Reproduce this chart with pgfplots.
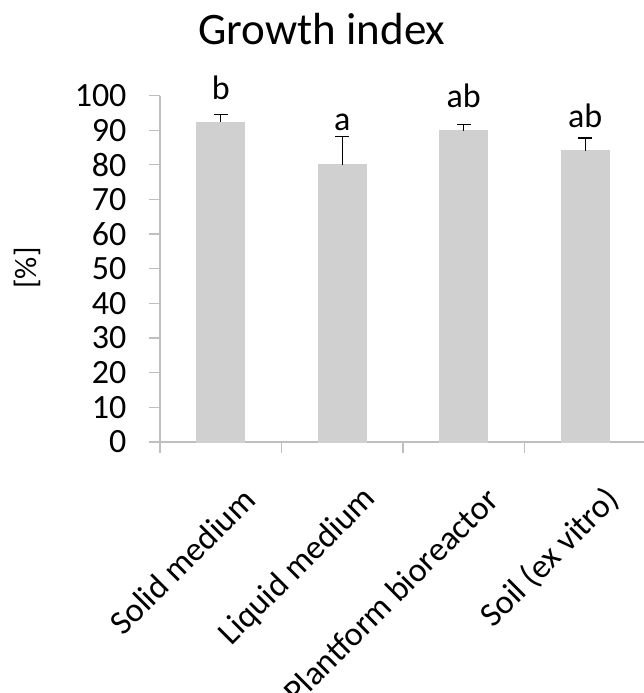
\documentclass[border=0pt]{standalone}
\usepackage{fontspec}
\setmainfont{Carlito}
\usepackage{pgfplots}
\pgfplotsset{compat=1.18}
\definecolor{barc}{RGB}{208,208,208}
\definecolor{axc}{RGB}{191,191,191}
\begin{document}
\begin{tikzpicture}[x=1pt,y=1pt]
\useasboundingbox (0,0) rectangle (644,-693);
\node[font=\fontsize{45}{54}\selectfont, anchor=base] at (322,-45) {Growth index};
\node[font=\fontsize{31}{37}\selectfont, rotate=90] at (27,-268) {[\%]};
\begin{axis}[
  at={(160pt,-442pt)}, anchor=south west,
  scale only axis, width=486pt, height=346.5pt,
  clip=false,
  xmin=-0.5, xmax=3.5, ymin=0, ymax=100,
  axis x line=bottom, axis y line=left,
  axis line style={-, draw=axc, line width=1.3pt},
  tick style={draw=axc, line width=1.3pt},
  tick align=outside, major tick length=11pt,
  ytick={0,10,...,100},
  /pgf/number format/assume math mode=true,
  yticklabel style={font=\fontsize{34}{40}\selectfont, xshift=-19pt},
  xtick={-0.5,0.5,1.5,2.5,3.5}, xticklabels={},
  extra x ticks={0,1,2,3},
  extra x tick labels={Solid medium, Liquid medium, Plantform bioreactor, Soil (ex vitro)},
  extra x tick style={major tick length=0pt, xticklabel style={rotate=45, anchor=east, xshift=-13pt, yshift=-57pt, font=\fontsize{34}{40}\selectfont}},
]
\addplot[ybar, bar width=48pt, fill=barc, draw=barc, line width=0pt,
  error bars/.cd, y dir=plus, y explicit,
  error bar style={draw=black, line width=1.3pt, solid},
  error mark options={rotate=90, draw=black, line width=1.3pt, mark size=7pt, solid}]
  table[x=x, y=y, y error=e] {
x y e
0 92.3 2.3
1 80.0 8.1
2 89.8 1.9
3 84.1 3.6
};
\node[anchor=base, font=\fontsize{34}{40}\selectfont] at (axis cs:0,98.9) {b};
\node[anchor=base, font=\fontsize{34}{40}\selectfont] at (axis cs:1,89.8) {a};
\node[anchor=base, font=\fontsize{34}{40}\selectfont] at (axis cs:2,96.5) {ab};
\node[anchor=base, font=\fontsize{34}{40}\selectfont] at (axis cs:3,90.8) {ab};
\end{axis}
\end{tikzpicture}
\end{document}
